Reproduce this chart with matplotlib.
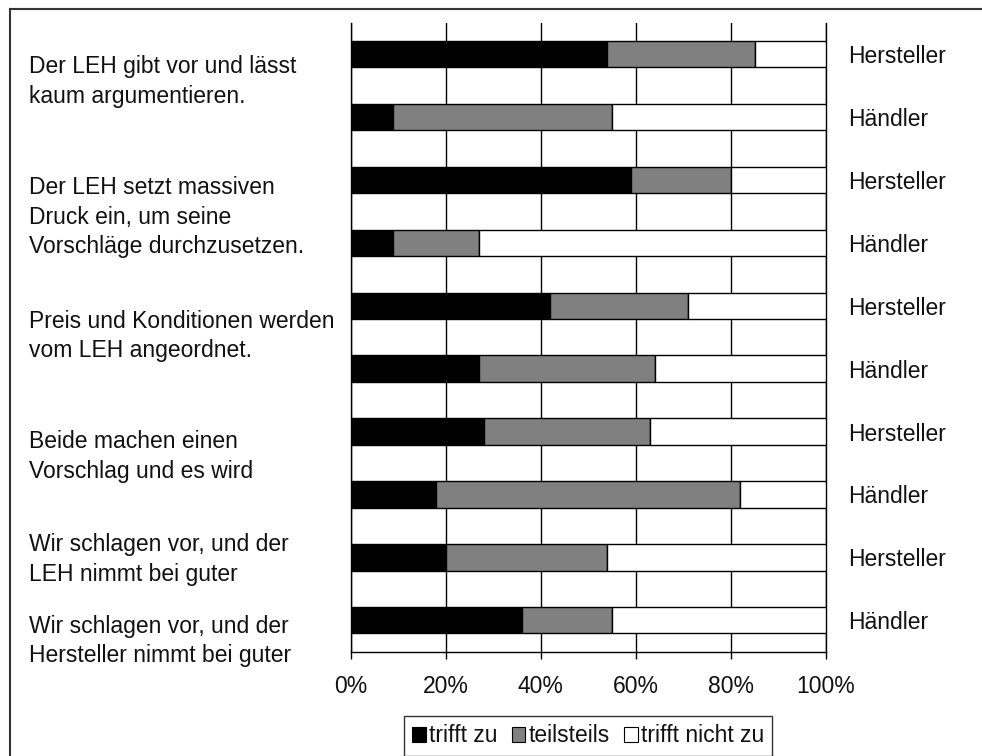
import matplotlib
matplotlib.use("Agg")
import matplotlib.pyplot as plt
from matplotlib.lines import Line2D
from matplotlib.patches import Patch
import numpy as np

plt.rcParams['font.family'] = ['Liberation Sans', 'DejaVu Sans']

# ---- data ----
bar_labels = ["Hersteller", "Händler", "Hersteller", "Händler", "Hersteller",
              "Händler", "Hersteller", "Händler", "Hersteller", "Händler"]
trifft_zu = [54, 9, 59, 9, 42, 27, 28, 18, 20, 36]
teilsteils = [31, 46, 21, 18, 29, 37, 35, 64, 34, 19]
trifft_nicht_zu = [15, 45, 20, 73, 29, 36, 37, 18, 46, 45]
series_names = ["trifft zu", "teilsteils", "trifft nicht zu"]
x_ticks = [0, 20, 40, 60, 80, 100]
x_ticklabels = ["0%", "20%", "40%", "60%", "80%", "100%"]
statements = [
    "Der LEH gibt vor und lässt\nkaum argumentieren.",
    "Der LEH setzt massiven\nDruck ein, um seine\nVorschläge durchzusetzen.",
    "Preis und Konditionen werden\nvom LEH angeordnet.",
    "Beide machen einen\nVorschlag und es wird",
    "Wir schlagen vor, und der\nLEH nimmt bei guter",
    "Wir schlagen vor, und der\nHersteller nimmt bei guter",
]
# layout: vertical anchor (in bar-index units) of each statement text
statement_pos = [0.44, 2.59, 4.48, 6.39, 8.04, 9.33]

colors = ["#000000", "#808080", "#ffffff"]
FS = 16.5

W, H = 982, 756
fig = plt.figure(figsize=(W / 100, H / 100), dpi=100)
ax = fig.add_axes([350.7 / W, 1 - 651.7 / H, (826 - 350.7) / W, (651.7 - 22.7) / H])

y = np.arange(len(bar_labels))
left = np.zeros(len(bar_labels))
for vals, c, name in zip([trifft_zu, teilsteils, trifft_nicht_zu], colors, series_names):
    ax.barh(y, vals, left=left, height=0.42, color=c, edgecolor="black",
            linewidth=1.0, label=name, zorder=3)
    left += np.array(vals)

ax.set_xlim(0, 100)
ax.set_ylim(len(bar_labels) - 0.5, -0.5)
ax.set_xticks(x_ticks)
ax.set_xticklabels(x_ticklabels, fontsize=FS, color="#111111")
ax.tick_params(axis="x", direction="out", length=5, width=1, pad=12, colors="black",
               labelcolor="#111111")
ax.xaxis.grid(True, color="black", linewidth=1.0, zorder=0)
ax.set_axisbelow(True)

ax.yaxis.tick_right()
ax.set_yticks(y)
ax.set_yticklabels(bar_labels, fontsize=FS, color="#111111")
ax.tick_params(axis="y", length=0, pad=16)

for s in ["top"]:
    ax.spines[s].set_visible(False)
for s in ["left", "right", "bottom"]:
    ax.spines[s].set_linewidth(1.0)
    ax.spines[s].set_color("black")

trans = matplotlib.transforms.blended_transform_factory(fig.transFigure, ax.transData)
for txt, p in zip(statements, statement_pos):
    ax.text(29 / W, p, txt, transform=trans, ha="left", va="center",
            fontsize=FS, linespacing=1.38, color="#111111")

handles = [Patch(facecolor=c, edgecolor="black", linewidth=0.8) for c in colors]
leg = fig.legend(handles, series_names, loc="center", bbox_to_anchor=(588.3 / W, 1 - 736 / H),
                 ncol=3, frameon=True, fancybox=False, fontsize=FS,
                 handlelength=0.6, handleheight=0.6, handletextpad=0.15,
                 columnspacing=0.6, borderpad=0.35, borderaxespad=0)
leg.get_frame().set_edgecolor("black")
leg.get_frame().set_linewidth(1.0)
for t in leg.get_texts():
    t.set_color("#111111")

# outer chart frame (cropped at right and bottom)
fig.add_artist(Line2D([10 / W, 1.0], [1 - 9 / H, 1 - 9 / H], transform=fig.transFigure,
                      color="#333333", linewidth=1.5))
fig.add_artist(Line2D([10 / W, 10 / W], [1 - 9 / H, 0.0], transform=fig.transFigure,
                      color="#333333", linewidth=1.5))

fig.savefig("out.png", dpi=100)
